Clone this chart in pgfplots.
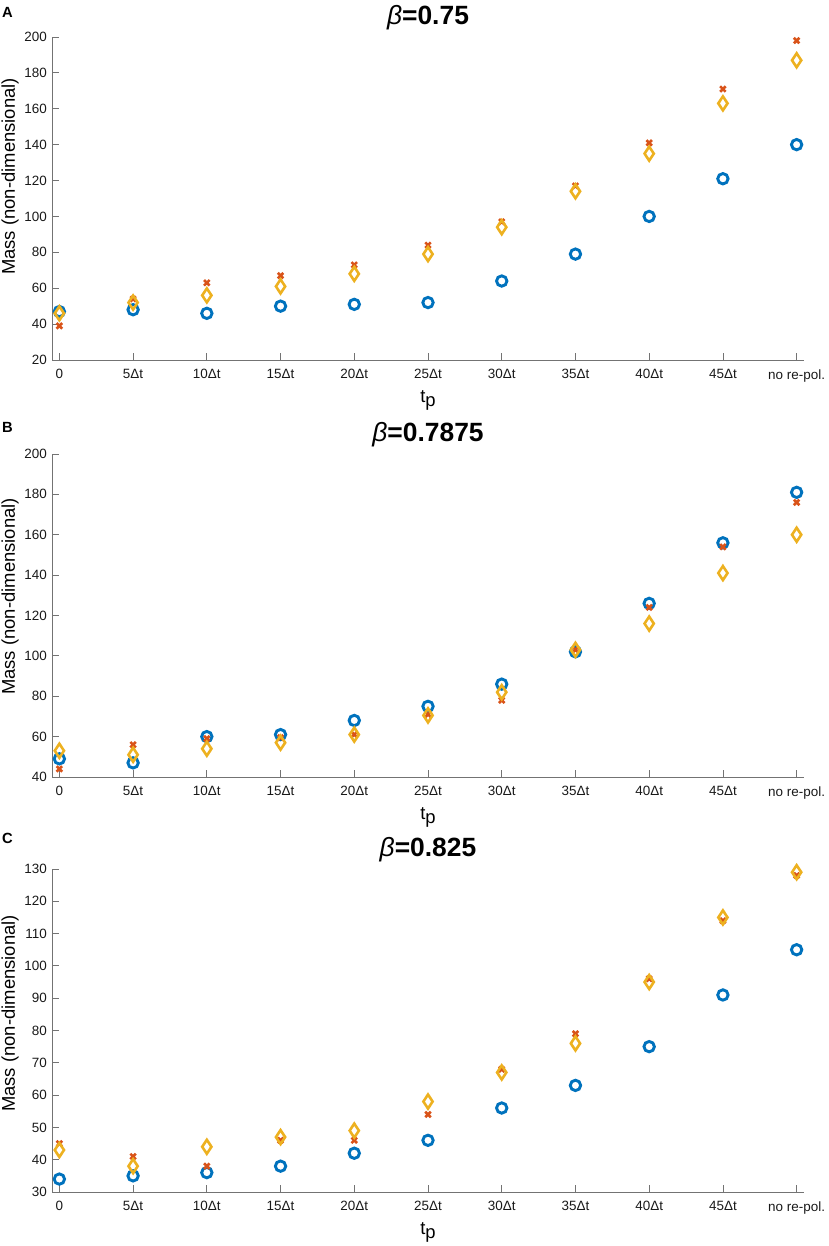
\documentclass[border=0pt]{standalone}
\usepackage{fontspec}
\setmainfont{Liberation Sans}
\usepackage{pgfplots}
\pgfplotsset{compat=1.18}
\definecolor{mblue}{rgb}{0,0.447,0.741}
\definecolor{mred}{rgb}{0.85,0.325,0.098}
\definecolor{myel}{rgb}{0.929,0.694,0.125}
\definecolor{axgray}{gray}{0.45}
\pgfplotsset{
  mystyle/.style={
    scale only axis, width=752bp, height=323bp,
    xmin=-0.1, xmax=10.1,
    axis x line*=bottom, axis y line*=left,
    axis line style={-, draw=axgray, line width=0.8bp},
    tick align=inside, major tick length=7bp,
    tick style={draw=axgray, line width=0.8bp},
    xtick={0,...,10},
    xticklabels={0,5Δt,10Δt,15Δt,20Δt,25Δt,30Δt,35Δt,40Δt,45Δt,no re-pol.},
    ticklabel style={font=\fontsize{13.5}{15}\selectfont, text=black!90},
    /pgf/number format/assume math mode=true,
    yticklabel style={xshift=-1.6bp},
    xticklabel style={yshift=-6bp},
    clip=false,
  },
  sblue/.style={only marks, mark=o, mark size=5.2bp, color=mblue, line width=2.9bp, mark options={line width=2.9bp}},
  sred/.style={only marks, mark=x, mark size=3.9bp, color=mred, line width=2.6bp, mark options={line width=2.6bp}},
  syel/.style={only marks, mark=diamond, mark size=7bp, color=myel, line width=2.6bp, mark options={line width=2.6bp, xscale=0.88}},
}
\newcommand{\ttl}[1]{\fontsize{26.5}{30}\selectfont\textit{β}\textbf{=#1}}
\newcommand{\ylab}{\fontsize{18.5}{20}\selectfont Mass (non-dimensional)}
\newcommand{\xlab}{\fontsize{18.5}{20}\selectfont t\raisebox{-3.5bp}{p}}
\newcommand{\plab}[1]{\fontsize{14.8}{16}\selectfont\bfseries #1}
\begin{document}
\begin{tikzpicture}[x=1bp,y=1bp]
\useasboundingbox (0,0) rectangle (829,1246);
% Panel A
\begin{axis}[mystyle, at={(52bp,886bp)}, anchor=south west,
  ymin=20, ymax=200, ytick={20,40,...,200}]
\addplot[sblue] coordinates {(0,47) (1,48) (2,46) (3,50) (4,51) (5,52) (6,64) (7,79) (8,100) (9,121) (10,140)};
\addplot[sred] coordinates {(0,39) (1,54) (2,63) (3,67) (4,73) (5,84) (6,97) (7,117) (8,141) (9,171) (10,198)};
\addplot[syel] coordinates {(0,46) (1,52) (2,56) (3,61) (4,68) (5,79) (6,94) (7,114) (8,135) (9,163) (10,187)};
\node[anchor=base, inner sep=0] at (rel axis cs:0.5,1) [yshift=12bp] {\ttl{0.75}};
\end{axis}
% Panel B
\begin{axis}[mystyle, at={(52bp,469bp)}, anchor=south west,
  ymin=40, ymax=200, ytick={40,60,...,200}]
\addplot[sblue] coordinates {(0,49) (1,47) (2,60) (3,61) (4,68) (5,75) (6,86) (7,102) (8,126) (9,156) (10,181)};
\addplot[sred] coordinates {(0,44) (1,56) (2,59) (3,59.5) (4,61) (5,71) (6,78) (7,103) (8,124) (9,154) (10,176)};
\addplot[syel] coordinates {(0,53) (1,51) (2,54) (3,57) (4,61) (5,70.5) (6,82) (7,103) (8,116) (9,141) (10,160)};
\node[anchor=base, inner sep=0] at (rel axis cs:0.5,1) [yshift=12bp] {\ttl{0.7875}};
\end{axis}
% Panel C
\begin{axis}[mystyle, at={(52bp,54bp)}, anchor=south west,
  ymin=30, ymax=130, ytick={30,40,...,130}]
\addplot[sblue] coordinates {(0,34) (1,35) (2,36) (3,38) (4,42) (5,46) (6,56) (7,63) (8,75) (9,91) (10,105)};
\addplot[sred] coordinates {(0,45) (1,41) (2,38) (3,46) (4,46) (5,54) (6,68) (7,79) (8,96) (9,114) (10,128)};
\addplot[syel] coordinates {(0,43) (1,38) (2,44) (3,47) (4,49) (5,58) (6,67) (7,76) (8,95) (9,115) (10,129)};
\node[anchor=base, inner sep=0] at (rel axis cs:0.5,1) [yshift=12bp] {\ttl{0.825}};
\end{axis}
% labels
\node[anchor=base west, inner sep=0] at (2,1228.7) {\plab{A}};
\node[anchor=base west, inner sep=0] at (2,813.7) {\plab{B}};
\node[anchor=base west, inner sep=0] at (2,402) {\plab{C}};
\node[rotate=90, anchor=base, inner sep=0] at (14.8,1069.5) {\ylab};
\node[rotate=90, anchor=base, inner sep=0] at (14.8,649.5) {\ylab};
\node[rotate=90, anchor=base, inner sep=0] at (14.8,232.5) {\ylab};
\node[anchor=base, inner sep=0] at (428,843) {\xlab};
\node[anchor=base, inner sep=0] at (428,426) {\xlab};
\node[anchor=base, inner sep=0] at (428,11) {\xlab};
\end{tikzpicture}
\end{document}
